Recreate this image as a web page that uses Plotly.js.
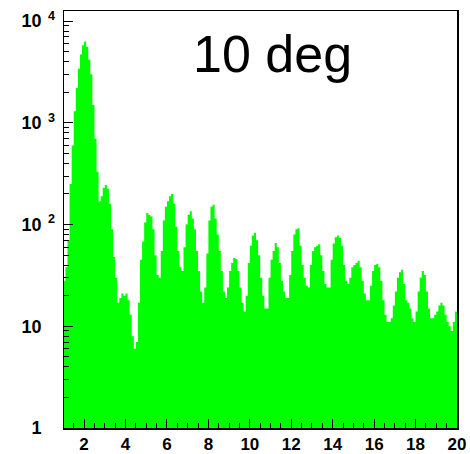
<!DOCTYPE html>
<html>
<head>
<meta charset="utf-8">
<script src="https://cdn.plot.ly/plotly-3.0.1.min.js"></script>
<style>
  html, body { margin: 0; padding: 0; background: #fff; }
  #plot { width: 470px; height: 454px; }
</style>
</head>
<body>
<div id="plot"></div>
<script>
// Histogram binning: 0.1 wide bins starting at 1.0
const binStart = 1.0;
const binWidth = 0.1;

// Counts per bin (1.0 ... 19.9)
const counts = [
  // 1.0 - 1.9
  28, 38, 70, 250, 600, 1300, 2200, 3400, 4700, 5800,
  // 2.0 - 2.9
  6300, 5600, 4200, 3000, 1500, 700, 330, 170, 190, 230,
  // 3.0 - 3.9
  245, 225, 160, 90, 48, 30, 17, 19, 21, 20,
  // 4.0 - 4.9
  21, 18, 13, 8, 6, 7, 17, 45, 68, 105,
  // 5.0 - 5.9
  130, 125, 120, 90, 50, 32, 30, 55, 110, 150,
  // 6.0 - 6.9
  170, 190, 200, 160, 95, 55, 38, 35, 60, 100,
  // 7.0 - 7.9
  125, 135, 115, 90, 55, 35, 22, 17, 24, 52,
  // 8.0 - 8.9
  110, 150, 157, 115, 80, 55, 35, 22, 19, 24,
  // 9.0 - 9.9
  35, 42, 47, 46, 35, 24, 17, 14, 20, 42,
  // 10.0 - 10.9
  62, 78, 83, 70, 50, 30, 20, 15, 15, 30,
  // 11.0 - 11.9
  45, 55, 66, 60, 42, 28, 22, 19, 19, 32,
  // 12.0 - 12.9
  55, 80, 90, 92, 62, 40, 30, 25, 24, 40,
  // 13.0 - 13.9
  55, 60, 62, 64, 50, 35, 26, 24, 24, 45,
  // 14.0 - 14.9
  65, 75, 78, 74, 62, 40, 28, 26, 30, 38,
  // 15.0 - 15.9
  40, 42, 44, 38, 28, 21, 18, 18, 25, 35,
  // 16.0 - 16.9
  40, 41, 38, 28, 18, 13, 11, 11, 12, 16,
  // 17.0 - 17.9
  22, 30, 34, 36, 26, 18, 17, 15, 12, 11,
  // 18.0 - 18.9
  14, 22, 30, 35, 32, 22, 15, 12, 12, 13,
  // 19.0 - 19.9
  14, 16, 17, 16, 13, 11, 10, 9, 11, 14
];

// Axis ticks and labels
const xTickStep = 2;
const yTickVals = [1, 10, 100, 1000, 10000];
const yTickText = [
  '1<sup>\u2002\u2007</sup>',
  '10<sup>\u2002\u2007</sup>',
  '10<sup>\u20022</sup>',
  '10<sup>\u20023</sup>',
  '10<sup>\u20024</sup>'
];
const titleText = '10 deg';

// Step outline: left bin edges, closed at the last right edge
const edges = [];
const steps = [];
for (let i = 0; i < counts.length; i++) {
  edges.push(+(binStart + i * binWidth).toFixed(2));
  steps.push(counts[i]);
}
edges.push(+(binStart + counts.length * binWidth).toFixed(2));
steps.push(counts[counts.length - 1]);

// Minor log ticks at 2..9 of each decade
const yMinor = [];
for (let d = 0; d < 4; d++) {
  for (let k = 2; k <= 9; k++) yMinor.push(k * Math.pow(10, d));
}
yMinor.push(20000);

const yFont = { family: 'Liberation Sans, Arial, sans-serif', size: 18, color: '#000', weight: 'bold' };
const xFont = { family: 'Liberation Sans, Arial, sans-serif', size: 17, color: '#000', weight: 'bold' };

const trace = {
  type: 'scatter',
  mode: 'lines',
  x: edges,
  y: steps,
  line: { shape: 'hv', width: 0, color: '#00ff00' },
  fill: 'tozeroy',
  fillcolor: '#00ff00',
  hoverinfo: 'skip'
};

const layout = {
  width: 470,
  height: 454,
  margin: { l: 64, r: 13, t: 11, b: 26 },
  paper_bgcolor: '#fff',
  plot_bgcolor: '#fff',
  showlegend: false,
  title: {
    text: titleText,
    font: { family: 'Liberation Sans, Arial, sans-serif', size: 52, color: '#000' },
    xref: 'container', yref: 'container',
    x: 0.58, y: 0.882,
    xanchor: 'center', yanchor: 'middle'
  },
  xaxis: {
    range: [1.03, 20],
    tickmode: 'linear', tick0: 0, dtick: xTickStep,
    ticks: 'inside', ticklen: 9, tickwidth: 1, tickcolor: '#000',
    minor: { dtick: 0.5, ticks: 'inside', ticklen: 5, tickwidth: 1, tickcolor: '#000' },
    showgrid: false, zeroline: false,
    showline: true, linecolor: '#000', linewidth: 1.5, mirror: true,
    tickfont: xFont,
    ticklabelstandoff: 0
  },
  yaxis: {
    type: 'log',
    range: [0, 4.1],
    tickmode: 'array', tickvals: yTickVals, ticktext: yTickText,
    ticks: 'inside', ticklen: 9, tickwidth: 1, tickcolor: '#000',
    minor: { tickmode: 'array', tickvals: yMinor, ticks: 'inside', ticklen: 5, tickwidth: 1, tickcolor: '#000' },
    showgrid: false, zeroline: false,
    showline: true, linecolor: '#000', linewidth: 1.5, mirror: true,
    tickfont: yFont,
    ticklabelstandoff: 4
  }
};

Plotly.newPlot('plot', [trace], layout, { staticPlot: true, displayModeBar: false });
</script>
</body>
</html>
